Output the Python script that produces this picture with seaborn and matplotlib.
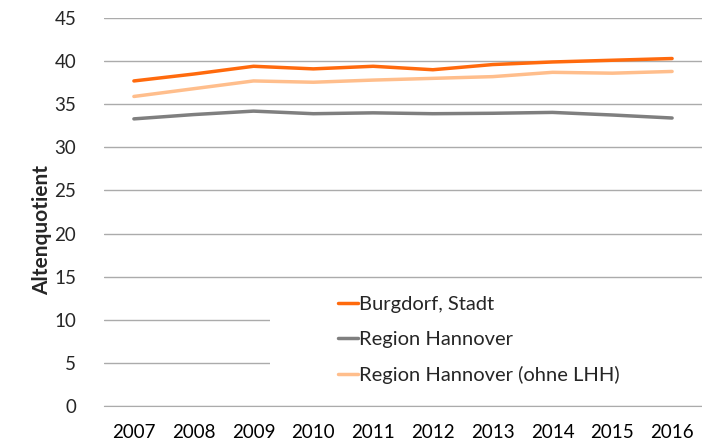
import seaborn as sns
import pandas as pd
import matplotlib.pyplot as plt
from matplotlib.patches import Rectangle

years = [2007, 2008, 2009, 2010, 2011, 2012, 2013, 2014, 2015, 2016]
burgdorf = [37.7, 38.5, 39.4, 39.1, 39.4, 39.0, 39.6, 39.9, 40.1, 40.3]
region = [33.3, 33.8, 34.2, 33.9, 34.0, 33.9, 33.95, 34.05, 33.75, 33.4]
region_ohne = [35.9, 36.8, 37.7, 37.55, 37.8, 38.0, 38.2, 38.7, 38.6, 38.8]
series_names = ["Burgdorf, Stadt", "Region Hannover", "Region Hannover (ohne LHH)"]
colors = ["#FF6A0D", "#7F7F7F", "#FFBE8C"]

sns.set_style("white")
plt.rcParams['font.family'] = ['Lato', 'DejaVu Sans']

rows = []
for name, vals in zip(series_names, [burgdorf, region, region_ohne]):
	for i, v in enumerate(vals):
		rows.append({"pos": i, "year": years[i], "value": v, "series": name})
df = pd.DataFrame(rows)

fig = plt.figure(figsize=(7.02, 4.44), dpi=100)
ax = fig.add_axes([104/702, 38/444, 598/702, 388/444])

sns.lineplot(data=df, x="pos", y="value", hue="series", palette=colors,
	hue_order=series_names, linewidth=2.5, ax=ax, legend=False, zorder=3)

ax.set_xlim(-0.5, len(years) - 0.5)
ax.set_ylim(0, 45)
ax.set_yticks(range(0, 46, 5))
ax.yaxis.grid(True, color="#ABABAB", linewidth=1)
ax.set_axisbelow(True)
for s in ["left", "right", "top"]:
	ax.spines[s].set_visible(False)
ax.spines["bottom"].set_color("#ABABAB")

ax.set_xticks(range(len(years)))
ax.set_xticklabels([str(y) for y in years])
ax.set_xticks([i - 0.5 for i in range(len(years) + 1)], minor=True)
ax.tick_params(axis="x", which="major", length=0, pad=13, labelsize=13.5, colors="#000000")
ax.tick_params(axis="x", which="minor", length=6, color="#ABABAB", direction="out")
ax.tick_params(axis="y", length=0, pad=20, labelsize=13.5)
ax.set_xlabel("")
ax.set_ylabel("Altenquotient", fontsize=15, fontweight="bold", va="center")
ax.yaxis.set_label_coords((42 - 104) / 598, (406 - 230) / 388)

# white box behind legend covering the gridlines
ax.add_patch(Rectangle(((270 - 104) / 598, (406 - 388) / 388), 1, (388 - 288) / 388,
	transform=ax.transAxes, facecolor="white", edgecolor="none", zorder=2))

handles = [plt.Line2D([], [], color=c, linewidth=2.5) for c in colors]
ax.legend(handles, series_names, loc="upper left",
	bbox_to_anchor=(328 / 702, 1 - 286 / 444), bbox_transform=fig.transFigure,
	frameon=False, fontsize=14.5, handlelength=1.0, handletextpad=0.05,
	labelspacing=0.88, borderpad=0)

plt.savefig("out.png", dpi=100)
